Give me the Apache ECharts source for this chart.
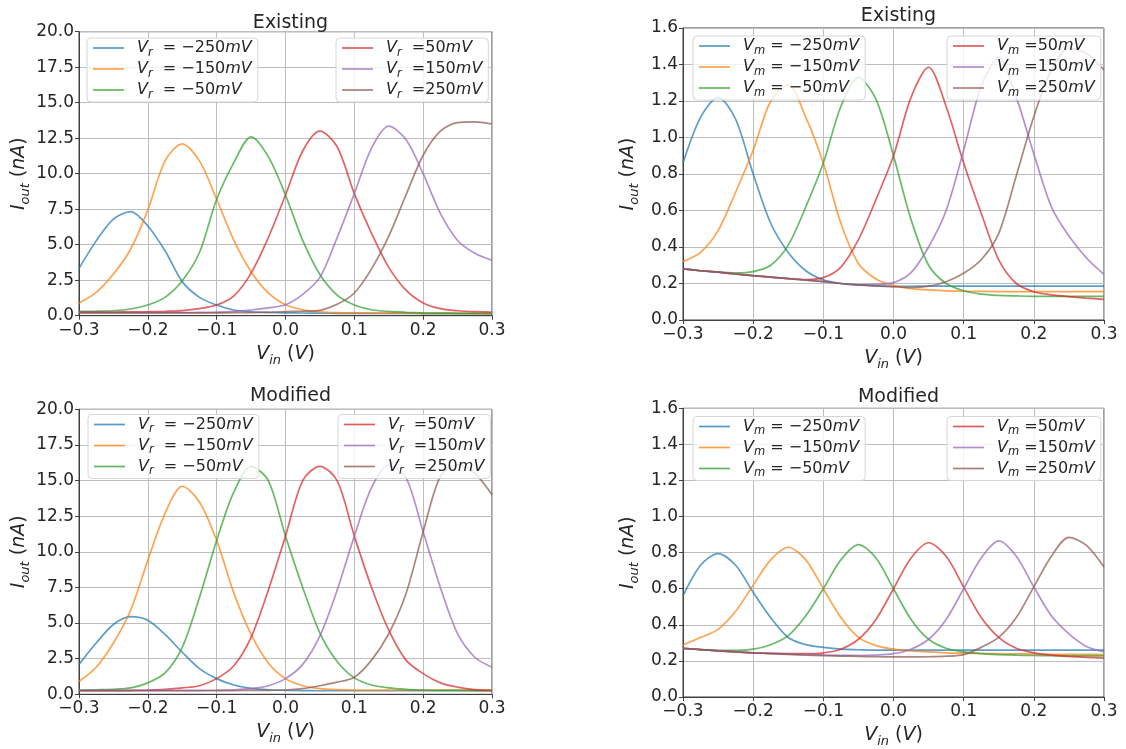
<!DOCTYPE html>
<html>
<head>
<meta charset="utf-8">
<script src="https://cdn.jsdelivr.net/npm/echarts@6/dist/echarts.min.js"></script>
<style>
  html, body { margin: 0; padding: 0; background: #fff; }
  #chart { width: 1126px; height: 749px; }
</style>
</head>
<body>
<div id="chart"></div>
<script>
// input voltage grid (V)
const vin = [-0.3, -0.275, -0.25, -0.225, -0.2, -0.175, -0.15, -0.125, -0.1, -0.075, -0.05, -0.025,
    0, 0.025, 0.05, 0.075, 0.1, 0.125, 0.15, 0.175, 0.2, 0.225, 0.25, 0.275, 0.3];

// Existing, V_r sweep (nA)
const exVrM250 = [3.33, 5.27, 6.8, 7.33, 6.32, 4.57, 2.4, 1.29, 0.75, 0.4, 0.28, 0.23, 0.2, 0.19, 0.18, 0.17, 0.17, 0.16, 0.16, 0.16, 0.15, 0.15, 0.15, 0.15, 0.15];
const exVrM150 = [0.89, 1.64, 2.93, 4.68, 7.45, 10.9, 12.1, 10.9, 8.2, 5.3, 3.1, 1.6, 0.77, 0.42, 0.28, 0.22, 0.2, 0.19, 0.18, 0.18, 0.17, 0.17, 0.17, 0.17, 0.17];
const exVrM50 = [0.3, 0.32, 0.35, 0.47, 0.75, 1.29, 2.46, 4.45, 8.2, 10.8, 12.6, 11.2, 8.5, 5.3, 2.9, 1.45, 0.75, 0.42, 0.3, 0.24, 0.2, 0.18, 0.17, 0.16, 0.15];
const exVrP50 = [0.25, 0.25, 0.26, 0.27, 0.28, 0.31, 0.36, 0.5, 0.75, 1.4, 3.0, 5.5, 8.5, 11.6, 13.0, 11.9, 8.6, 5.8, 3.4, 1.8, 0.9, 0.5, 0.35, 0.28, 0.25];
const exVrP150 = [0.22, 0.22, 0.22, 0.22, 0.22, 0.22, 0.22, 0.23, 0.25, 0.3, 0.4, 0.55, 0.77, 1.5, 2.7, 5.5, 8.6, 11.8, 13.35, 12.4, 10.0, 7.2, 5.3, 4.4, 3.9];
const exVrP250 = [0.2, 0.2, 0.2, 0.2, 0.2, 0.2, 0.2, 0.2, 0.2, 0.21, 0.22, 0.24, 0.28, 0.32, 0.38, 0.8, 1.6, 3.3, 5.6, 8.5, 11.3, 13.0, 13.6, 13.65, 13.5];

// Existing, V_m sweep (nA)
const exVmM250 = [0.86, 1.11, 1.22, 1.1, 0.8, 0.53, 0.37, 0.27, 0.22, 0.2, 0.192, 0.187, 0.185, 0.185, 0.186, 0.186, 0.186, 0.186, 0.186, 0.186, 0.186, 0.186, 0.186, 0.186, 0.186];
const exVmM150 = [0.32, 0.37, 0.49, 0.7, 0.93, 1.2, 1.29, 1.11, 0.86, 0.53, 0.31, 0.225, 0.19, 0.172, 0.165, 0.16, 0.158, 0.157, 0.156, 0.155, 0.155, 0.155, 0.155, 0.155, 0.155];
const exVmM50 = [0.28, 0.27, 0.262, 0.258, 0.265, 0.3, 0.41, 0.62, 0.86, 1.17, 1.33, 1.21, 0.9, 0.55, 0.3, 0.2, 0.16, 0.142, 0.135, 0.132, 0.13, 0.13, 0.13, 0.13, 0.13];
const exVmP50 = [0.28, 0.27, 0.262, 0.252, 0.243, 0.235, 0.227, 0.222, 0.232, 0.29, 0.44, 0.66, 0.9, 1.22, 1.385, 1.17, 0.86, 0.585, 0.33, 0.2, 0.155, 0.138, 0.128, 0.12, 0.113];
const exVmP150 = [0.28, 0.27, 0.262, 0.252, 0.243, 0.235, 0.227, 0.218, 0.21, 0.2, 0.193, 0.195, 0.205, 0.26, 0.4, 0.6, 0.93, 1.28, 1.44, 1.22, 0.91, 0.62, 0.46, 0.34, 0.25];
const exVmP250 = [0.28, 0.27, 0.262, 0.252, 0.243, 0.235, 0.227, 0.218, 0.21, 0.2, 0.193, 0.187, 0.182, 0.178, 0.185, 0.21, 0.256, 0.33, 0.475, 0.79, 1.115, 1.37, 1.49, 1.46, 1.37];

// Modified, V_r sweep (nA)
const mdVrM250 = [2.1, 3.6, 4.9, 5.45, 5.2, 4.2, 2.95, 1.8, 1.1, 0.65, 0.42, 0.32, 0.28, 0.26, 0.25, 0.25, 0.25, 0.25, 0.25, 0.25, 0.25, 0.25, 0.25, 0.25, 0.25];
const mdVrM150 = [0.9, 1.9, 3.6, 5.9, 9.4, 12.7, 14.6, 13.5, 10.8, 7.1, 4.2, 2.2, 1.1, 0.6, 0.4, 0.33, 0.3, 0.3, 0.3, 0.3, 0.3, 0.3, 0.3, 0.3, 0.3];
const mdVrM50 = [0.3, 0.32, 0.35, 0.45, 0.8, 1.5, 3.3, 6.8, 10.8, 14.2, 16.0, 15.0, 11.1, 7.5, 4.3, 2.3, 1.15, 0.65, 0.45, 0.35, 0.3, 0.28, 0.27, 0.26, 0.25];
const mdVrP50 = [0.25, 0.25, 0.26, 0.27, 0.3, 0.35, 0.45, 0.6, 1.1, 2.0, 4.0, 7.3, 11.1, 15.0, 16.0, 15.0, 11.1, 7.5, 4.5, 2.4, 1.45, 0.8, 0.5, 0.33, 0.28];
const mdVrP150 = [0.28, 0.28, 0.28, 0.28, 0.28, 0.28, 0.28, 0.28, 0.29, 0.32, 0.4, 0.6, 1.1, 2.1, 4.1, 7.3, 11.1, 14.5, 16.1, 15.2, 11.4, 7.5, 4.25, 2.6, 1.9];
const mdVrP250 = [0.25, 0.25, 0.25, 0.25, 0.25, 0.25, 0.25, 0.25, 0.25, 0.26, 0.27, 0.28, 0.3, 0.4, 0.6, 0.85, 1.2, 2.4, 4.25, 7.05, 11.4, 15.3, 16.1, 15.5, 14.0];

// Modified, V_m sweep (nA)
const mdVmM250 = [0.56, 0.73, 0.795, 0.73, 0.58, 0.44, 0.33, 0.29, 0.275, 0.265, 0.262, 0.26, 0.26, 0.26, 0.26, 0.26, 0.26, 0.26, 0.26, 0.26, 0.26, 0.26, 0.26, 0.26, 0.26];
const mdVmM150 = [0.29, 0.33, 0.375, 0.475, 0.62, 0.76, 0.83, 0.76, 0.6, 0.44, 0.33, 0.285, 0.265, 0.255, 0.25, 0.245, 0.243, 0.241, 0.24, 0.239, 0.238, 0.237, 0.236, 0.236, 0.235];
const mdVmM50 = [0.27, 0.263, 0.258, 0.258, 0.265, 0.29, 0.34, 0.45, 0.6, 0.76, 0.845, 0.77, 0.6, 0.43, 0.32, 0.27, 0.25, 0.24, 0.235, 0.232, 0.23, 0.229, 0.228, 0.228, 0.228];
const mdVmP50 = [0.27, 0.263, 0.256, 0.25, 0.245, 0.242, 0.24, 0.24, 0.245, 0.265, 0.32, 0.43, 0.6, 0.77, 0.855, 0.78, 0.61, 0.44, 0.33, 0.27, 0.245, 0.232, 0.225, 0.22, 0.215];
const mdVmP150 = [0.27, 0.263, 0.256, 0.25, 0.245, 0.242, 0.239, 0.236, 0.233, 0.231, 0.23, 0.232, 0.24, 0.265, 0.32, 0.43, 0.6, 0.77, 0.865, 0.78, 0.61, 0.45, 0.35, 0.28, 0.25];
const mdVmP250 = [0.27, 0.263, 0.256, 0.25, 0.245, 0.24, 0.236, 0.232, 0.229, 0.227, 0.225, 0.223, 0.222, 0.222, 0.223, 0.226, 0.235, 0.275, 0.33, 0.44, 0.61, 0.78, 0.885, 0.84, 0.72];

const levels = ['−250', '−150', '−50', '50', '150', '250'];
const colors = ['#1f77b4', '#ff7f0e', '#2ca02c', '#d62728', '#9467bd', '#8c564b'];
const titles = ['Existing', 'Existing', 'Modified', 'Modified'];

const panels = [
    { key: 'exr', sym: 'r', curves: [exVrM250, exVrM150, exVrM50, exVrP50, exVrP150, exVrP250] },
    { key: 'exm', sym: 'm', curves: [exVmM250, exVmM150, exVmM50, exVmP50, exVmP150, exVmP250] },
    { key: 'mdr', sym: 'r', curves: [mdVrM250, mdVrM150, mdVrM50, mdVrP50, mdVrP150, mdVrP250] },
    { key: 'mdm', sym: 'm', curves: [mdVmM250, mdVmM150, mdVmM50, mdVmP50, mdVmP150, mdVmP250] }
];

// plot boxes, px
const boxes = [
    { left: 79, top: 31.7, width: 413, height: 284 },
    { left: 683, top: 28, width: 421, height: 292 },
    { left: 79, top: 409.3, width: 413, height: 285 },
    { left: 683, top: 408.3, width: 421, height: 292 }
];

const font = 'DejaVu Sans';
const ink = '#262626';

const richMath = {
    i: { fontFamily: font, fontStyle: 'italic', fontSize: 16, color: ink, lineHeight: 22, verticalAlign: 'middle' },
    n: { fontFamily: font, fontSize: 16, color: ink, lineHeight: 22, verticalAlign: 'middle' },
    s: { fontFamily: font, fontStyle: 'italic', fontSize: 11.5, color: ink, lineHeight: 12, verticalAlign: 'bottom' },
    g: { width: 8 }
};

const richAxis = {
    i: { fontFamily: font, fontStyle: 'italic', fontSize: 19, color: ink, lineHeight: 26, verticalAlign: 'middle' },
    n: { fontFamily: font, fontSize: 19, color: ink, lineHeight: 26, verticalAlign: 'middle' },
    s: { fontFamily: font, fontStyle: 'italic', fontSize: 13, color: ink, lineHeight: 13, verticalAlign: 'bottom' }
};

const labelMap = {};
panels.forEach(p => {
    levels.forEach((lv, j) => {
        const name = p.key + '_' + j;
        const eq = p.sym === 'r' ? (j < 3 ? '  = ' + lv : '  =' + lv) : (j < 3 ? ' = ' + lv : ' =' + lv);
        labelMap[name] = '{g|}{i|V}{s|' + p.sym + '}{n|' + eq + '}{i|mV}';
    });
});

function fmt1(v) {
    return (Math.round(v * 10) / 10).toFixed(1).replace('-', '−');
}

const grid = [], xAxis = [], yAxis = [], series = [], legend = [], title = [];

boxes.forEach((b, k) => {
    grid.push({ left: b.left, top: b.top, width: b.width, height: b.height, show: true,
        borderColor: '#404040', borderWidth: 1, backgroundColor: 'transparent' });

    xAxis.push({
        type: 'value', gridIndex: k, min: -0.3, max: 0.3, interval: 0.1,
        name: '{i|V}{s|in}{n| (}{i|V}{n|)}', nameLocation: 'middle', nameGap: 25,
        nameTextStyle: { rich: richAxis },
        axisLine: { show: true, onZero: false, lineStyle: { color: '#404040' } },
        axisTick: { show: true, length: 4, lineStyle: { color: '#404040' } },
        axisLabel: { formatter: fmt1, fontFamily: font, fontSize: 17, color: ink, margin: 6 },
        splitLine: { show: true, lineStyle: { color: '#bdbdbd', width: 1 } }
    });

    const big = k % 2 === 0;
    yAxis.push({
        type: 'value', gridIndex: k, min: 0, max: big ? 20 : 1.6, interval: big ? 2.5 : 0.2,
        name: '{i|I}{s|out}{n| (}{i|nA}{n|)}', nameLocation: 'middle', nameGap: big ? 46 : 42,
        nameTextStyle: { rich: richAxis },
        axisLine: { show: true, onZero: false, lineStyle: { color: '#404040' } },
        axisTick: { show: true, length: 4, lineStyle: { color: '#404040' } },
        axisLabel: { formatter: v => v.toFixed(1), fontFamily: font, fontSize: 17, color: ink, margin: 5 },
        splitLine: { show: true, lineStyle: { color: '#bdbdbd', width: 1 } }
    });

    const p = panels[k];
    p.curves.forEach((arr, j) => {
        series.push({
            name: p.key + '_' + j,
            type: 'line', xAxisIndex: k, yAxisIndex: k,
            data: vin.map((x, i) => [x, arr[i]]),
            symbol: 'none', smooth: 0.3,
            color: colors[j],
            lineStyle: { width: 1.7, opacity: 0.72 },
            z: 2
        });
    });

    const top = [38, 36, 414.5, 416.5][k];
    const lefts = [[87, 336], [693, 947], [88, 338], [693, 947]][k];
    [0, 1].forEach(side => {
        legend.push({
            orient: 'vertical',
            left: lefts[side], top: top,
            data: [0, 1, 2].map(j => ({ name: p.key + '_' + (j + side * 3), icon: 'rect',
                itemStyle: { color: colors[j + side * 3], opacity: 0.75 } })),
            formatter: name => labelMap[name],
            textStyle: { rich: richMath },
            itemWidth: 31, itemHeight: 1.7, itemGap: 2,
            padding: [2, 6, 1, 6],
            backgroundColor: 'rgba(255,255,255,0.8)',
            borderColor: '#d6d6d6', borderWidth: 1, borderRadius: 4,
            selectedMode: false
        });
    });

    title.push({
        text: titles[k],
        left: b.left + b.width / 2, textAlign: 'center',
        top: [9, 2, 382, 383][k],
        textStyle: { fontFamily: font, fontSize: 19, fontWeight: 'normal', color: ink }
    });
});

const myChart = echarts.init(document.getElementById('chart'), null, { renderer: 'canvas' });
myChart.setOption({
    animation: false,
    backgroundColor: '#fff',
    title: title,
    grid: grid,
    xAxis: xAxis,
    yAxis: yAxis,
    legend: legend,
    series: series
});
</script>
</body>
</html>
